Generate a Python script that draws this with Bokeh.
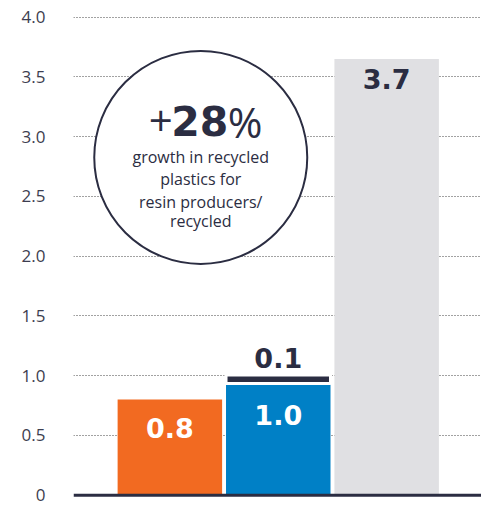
from bokeh.plotting import figure
from bokeh.models import FixedTicker, Span, ColumnDataSource, Range1d
from bokeh.core.properties import value
from bokeh.embed import file_html
from bokeh.resources import INLINE

# ---- data ----
categories = ["Segment A", "Segment B", "Segment C"]
base_values = [0.8, 0.935, 3.65]
top_values = [0.0, 0.07, 0.0]
base_labels = ["0.8", "1.0", "3.7"]
top_label = "0.1"
bar_colors = ["#F26A21", "#0080C6", "#E0E0E3"]
label_colors = ["#FFFFFF", "#FFFFFF", "#2B2D42"]
y_ticks = [0, 0.5, 1.0, 1.5, 2.0, 2.5, 3.0, 3.5, 4.0]
callout_big = "28"
callout_lines = ["growth in recycled", "plastics for", "resin producers/", "recycled"]

NAVY = "#2B2D42"
TICK = "#3D3E50"

xs = list(range(len(categories)))

p = figure(width=481, height=509, output_backend="svg", toolbar_location=None,
           x_range=Range1d(-0.889, 2.875), y_range=Range1d(-0.12, 4.14),
           x_axis_location=None, min_border_left=73, min_border_right=0,
           min_border_top=0, min_border_bottom=0)
p.outline_line_color = None
p.background_fill_color = "white"

# axis
p.yaxis.ticker = FixedTicker(ticks=y_ticks)
p.yaxis.major_label_overrides = {t: ("0" if t == 0 else f"{t:.1f}") for t in y_ticks}
p.yaxis.axis_line_color = None
p.yaxis.major_tick_line_color = None
p.yaxis.minor_tick_line_color = None
p.yaxis.major_label_standoff = 22
p.yaxis.major_label_text_font = "Open Sans"
p.yaxis.major_label_text_font_size = "17px"
p.yaxis.major_label_text_color = TICK

p.xgrid.grid_line_color = None
p.ygrid.ticker = FixedTicker(ticks=y_ticks[1:])
p.ygrid.grid_line_color = "#444444"
p.ygrid.grid_line_dash = "1 2"
p.ygrid.grid_line_width = 1

src = ColumnDataSource(dict(x=xs, base=base_values, color=bar_colors))

W = 0.964
p.vbar(x="x", top="base", bottom=0, width=W, fill_color="color", line_color=None, source=src)

# stacked top segment on the middle bar
seg_x = [x for x, t in zip(xs, top_values) if t > 0]
seg_b = [b for b, t in zip(base_values, top_values) if t > 0]
seg_t = [b + t for b, t in zip(base_values, top_values) if t > 0]
p.vbar(x=seg_x, bottom=seg_b, top=seg_t, width=W, fill_color=NAVY, line_color="white", line_width=3)

# baseline
p.add_layout(Span(location=0, dimension="width", line_color=NAVY, line_width=3))

# bar labels
off = [28.6, 31.6, 20.4]
p.text(x=xs, y=base_values, text=base_labels, text_color=label_colors,
       y_offset=off, text_align="center", text_baseline="middle",
       text_font=value("DejaVu Sans"), text_font_style="bold", text_font_size="27px")
p.text(x=seg_x, y=seg_t, text=[top_label], text_color=NAVY, y_offset=-17.3,
       text_align="center", text_baseline="middle",
       text_font=value("DejaVu Sans"), text_font_style="bold", text_font_size="27px")

# callout circle
cx, cy = 0.285, 2.827
p.scatter(x=[cx], y=[cy], size=213, marker="circle", fill_color="white",
          line_color=NAVY, line_width=2)
p.text(x=[cx], y=[cy], text=["+"], x_offset=-28, y_offset=-36, text_align="right",
       text_baseline="middle", text_color=NAVY, text_font=value("Open Sans"),
       text_font_size="42px")
p.text(x=[cx], y=[cy], text=[callout_big], x_offset=-1, y_offset=-36, text_align="center",
       text_baseline="middle", text_color=NAVY, text_font=value("DejaVu Sans"),
       text_font_style="bold", text_font_size="41px")
p.text(x=[cx], y=[cy], text=["%"], x_offset=27, y_offset=-36, text_align="left",
       text_baseline="middle", text_color=NAVY, text_font=value("Open Sans"),
       text_font_size="42px")
p.text(x=[cx] * len(callout_lines), y=[cy] * len(callout_lines), text=callout_lines,
       x_offset=0, y_offset=[-0.7, 22, 44.3, 64], text_align="center", text_baseline="middle",
       text_color=NAVY, text_font=value("Open Sans"), text_font_size="16px")

open("out.html", "w").write(file_html(p, INLINE))
